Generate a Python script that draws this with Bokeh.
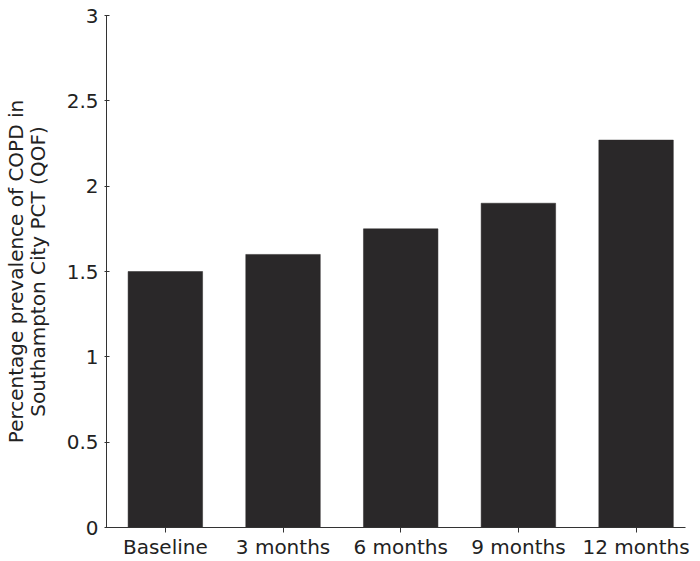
from bokeh.plotting import figure
from bokeh.models import Range1d, FixedTicker, ColumnDataSource
from bokeh.embed import file_html
from bokeh.resources import INLINE

categories = ["Baseline", "3 months", "6 months", "9 months", "12 months"]
prevalence = [1.50, 1.60, 1.75, 1.90, 2.27]
y_ticks = [0, 0.5, 1, 1.5, 2, 2.5, 3]
y_tick_labels = ["0", "0.5", "1", "1.5", "2", "2.5", "3"]

positions = list(range(len(categories)))
src = ColumnDataSource(dict(x=positions, top=prevalence))

FONT = "DejaVu Sans"
AX = "#333333"

p = figure(width=700, height=561, output_backend="svg", toolbar_location=None,
           x_range=Range1d(-0.5, 4.42), y_range=Range1d(0, 3),
           min_border_left=106, min_border_right=15, min_border_top=15, min_border_bottom=30)
p.outline_line_color = None
p.grid.visible = False
p.background_fill_color = "white"
p.border_fill_color = "white"

p.vbar(x="x", top="top", width=0.633, source=src, fill_color="#2a2829", line_color="#2a2829", line_width=0.5)

xa = p.xaxis[0]
xa.ticker = FixedTicker(ticks=positions)
xa.major_label_overrides = {i: c for i, c in zip(positions, categories)}
xa.major_tick_out = 5
xa.major_tick_in = 0
xa.minor_tick_line_color = None
xa.major_label_standoff = 2
xa.axis_line_color = AX
xa.major_tick_line_color = AX
xa.major_label_text_font = FONT
xa.major_label_text_font_size = "20px"
xa.major_label_text_color = "#222222"

ya = p.yaxis[0]
ya.ticker = FixedTicker(ticks=y_ticks)
ya.major_label_overrides = {t: l for t, l in zip(y_ticks, y_tick_labels)}
ya.major_tick_out = 2
ya.major_tick_in = 3
ya.minor_tick_line_color = None
ya.major_label_standoff = 6
ya.axis_line_color = AX
ya.major_tick_line_color = AX
ya.major_label_text_font = FONT
ya.major_label_text_font_size = "20px"
ya.major_label_text_color = "#222222"
ya.axis_label = "Percentage prevalence of COPD in\nSouthampton City PCT (QOF)"
ya.axis_label_text_font = FONT
ya.axis_label_text_font_size = "20px"
ya.axis_label_text_font_style = "normal"
ya.axis_label_text_color = "#222222"
ya.axis_label_text_line_height = 0.9
ya.axis_label_standoff = 14

open("out.html", "w").write(file_html(p, INLINE))
